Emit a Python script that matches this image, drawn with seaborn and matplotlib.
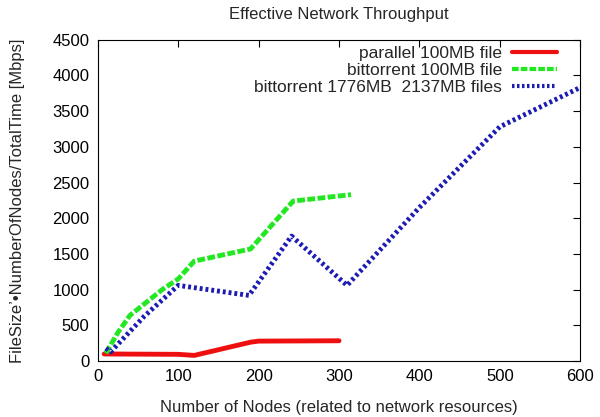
import matplotlib
matplotlib.use('Agg')
import matplotlib.pyplot as plt
import seaborn as sns

# values
par_nodes = [8, 100, 120, 190, 200, 300]
par_thr = [100, 95, 80, 265, 280, 285]

bt_nodes = [10, 25, 40, 80, 100, 120, 190, 243, 315]
bt_thr = [110, 400, 640, 1000, 1150, 1400, 1570, 2240, 2330]

big_nodes = [10, 16, 58, 100, 188, 241, 310, 400, 500, 600]
big_thr = [180, 130, 630, 1060, 920, 1750, 1060, 2150, 3280, 3830]

sns.set_theme(style='white')
plt.rcParams['font.family'] = ['Liberation Sans', 'DejaVu Sans']

fig = plt.figure(figsize=(6, 4.17), dpi=100)
ax = fig.add_axes([0.163, 0.134, 0.804, 0.771])

sns.lineplot(x=par_nodes, y=par_thr, ax=ax, color='#ee1010', linewidth=3.5,
             label='parallel 100MB file')
sns.lineplot(x=bt_nodes, y=bt_thr, ax=ax, color='#22e822', linewidth=3.5,
             label='bittorrent 100MB file')
sns.lineplot(x=big_nodes, y=big_thr, ax=ax, color='#1c1cb4', linewidth=3.5,
             label='bittorrent 1776MB  2137MB files')
ax.lines[1].set_dashes([1.6, 0.5])
ax.lines[2].set_dashes([0.6, 0.6])

ax.set_xlim(0, 600)
ax.set_ylim(0, 4500)
ax.set_xticks(range(0, 601, 100))
ax.set_yticks(range(0, 4501, 500))
ax.tick_params(direction='in', length=5, width=0.8, top=True, right=True,
               labelsize=12, colors='black', pad=6)
for s in ax.spines.values():
    s.set_color('black')
    s.set_linewidth(0.8)

ax.set_title('Effective Network Throughput', fontsize=12, pad=15)
ax.set_xlabel('Number of Nodes (related to network resources)', fontsize=12, labelpad=11)
ax.set_ylabel('FileSize\u2019\u2022NumberOfNodes/TotalTime [Mbps]', fontsize=12, labelpad=20)

leg = ax.legend(loc='upper right', bbox_to_anchor=(0.985, 1.03), frameon=False,
                markerfirst=False, fontsize=12.5, handlelength=2.6, handletextpad=0.6,
                labelspacing=0.12)
for h in leg.get_lines():
    h.set_linewidth(3)

fig.savefig('out.png', dpi=100)
